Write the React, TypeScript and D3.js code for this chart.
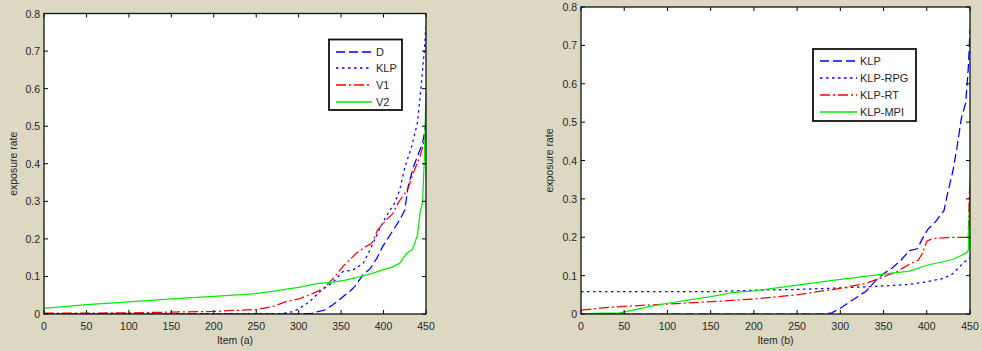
import React from "react";
import * as d3 from "d3";

// ---------- data ----------
const xTicks = [0, 50, 100, 150, 200, 250, 300, 350, 400, 450];
const yTicks = [0, 0.1, 0.2, 0.3, 0.4, 0.5, 0.6, 0.7, 0.8];

// Left panel (a)
const aNames = ["D", "KLP", "V1", "V2"];
const aD_x = [0, 300, 315, 330, 340, 350, 360, 366, 376, 384, 392, 399, 409, 419, 425, 429, 435, 440, 446, 448, 450];
const aD_y = [0, 0, 0.002, 0.01, 0.024, 0.042, 0.06, 0.073, 0.105, 0.12, 0.148, 0.18, 0.215, 0.25, 0.277, 0.34, 0.39, 0.42, 0.455, 0.48, 0.51];
const aKLP_x = [0, 280, 293, 301, 313, 325, 341, 352, 364, 376, 384, 393, 403, 413, 419, 425, 433, 440, 444, 448, 450];
const aKLP_y = [0, 0.001, 0.006, 0.015, 0.033, 0.06, 0.086, 0.113, 0.117, 0.135, 0.17, 0.215, 0.26, 0.295, 0.33, 0.39, 0.445, 0.51, 0.6, 0.7, 0.77];
const aV1_x = [0, 100, 150, 200, 250, 270, 285, 300, 317, 329, 341, 352, 368, 376, 386, 393, 403, 411, 417, 429, 435, 443, 448, 450];
const aV1_y = [0.002, 0.003, 0.005, 0.007, 0.012, 0.02, 0.033, 0.04, 0.055, 0.068, 0.095, 0.126, 0.162, 0.175, 0.188, 0.224, 0.25, 0.268, 0.295, 0.335, 0.375, 0.42, 0.46, 0.48];
const aV2_x = [0, 50, 100, 150, 200, 250, 280, 300, 320, 340, 355, 370, 385, 400, 410, 419, 427, 434, 440, 443, 446, 448, 449, 450];
const aV2_y = [0.015, 0.025, 0.032, 0.04, 0.047, 0.054, 0.064, 0.071, 0.08, 0.085, 0.09, 0.098, 0.107, 0.118, 0.125, 0.135, 0.161, 0.172, 0.21, 0.268, 0.3, 0.41, 0.5, 0.59];

// Right panel (b)
const bNames = ["KLP", "KLP-RPG", "KLP-RT", "KLP-MPI"];
const bKLP_x = [0, 280, 290, 300, 310, 320, 330, 340, 350, 360, 370, 380, 389, 397, 401, 410, 420, 424, 430, 435, 440, 445, 448, 450];
const bKLP_y = [0, 0, 0.003, 0.015, 0.03, 0.045, 0.06, 0.085, 0.105, 0.12, 0.14, 0.165, 0.17, 0.205, 0.22, 0.24, 0.27, 0.314, 0.37, 0.435, 0.51, 0.55, 0.64, 0.74];
const bRPG_x = [0, 150, 200, 250, 300, 350, 380, 400, 420, 430, 440, 446, 450];
const bRPG_y = [0.058, 0.058, 0.062, 0.064, 0.068, 0.073, 0.077, 0.084, 0.093, 0.105, 0.128, 0.14, 0.147];
const bRT_x = [0, 20, 50, 100, 150, 200, 250, 300, 330, 350, 365, 380, 390, 395, 400, 405, 410, 430, 448, 449, 450];
const bRT_y = [0.01, 0.015, 0.02, 0.026, 0.032, 0.039, 0.05, 0.067, 0.08, 0.097, 0.11, 0.13, 0.14, 0.158, 0.19, 0.195, 0.197, 0.2, 0.2, 0.3, 0.35];
const bMPI_x = [0, 25, 45, 60, 80, 100, 150, 175, 200, 250, 300, 350, 380, 400, 430, 445, 448, 449, 450];
const bMPI_y = [0, 0.002, 0.003, 0.01, 0.02, 0.028, 0.045, 0.056, 0.06, 0.075, 0.09, 0.104, 0.112, 0.127, 0.142, 0.158, 0.165, 0.25, 0.345];

// ---------- styles ----------
const BG = "#DCD8C2";
const FONT = "'Liberation Sans', Arial, sans-serif";
const TXT = "#262626";
const FS = 10.5;
const DASH = "9,4";
const DOT = "2.5,3.5";
const DASHDOT = "10,3,2,3";

type Series = { name: string; xs: number[]; ys: number[]; color: string; dash: string | null };

type PanelProps = {
  id: string;
  left: number; right: number; top: number; bottom: number;
  xLabel: string;
  ylabelX: number;
  series: Series[];
  legend: { x0: number; x1: number; y0: number; y1: number; lx0: number; lx1: number; tx: number; rows: number[] };
};

function Panel(p: PanelProps) {
  const x = d3.scaleLinear().domain([0, 450]).range([p.left, p.right]);
  const y = d3.scaleLinear().domain([0, 0.8]).range([p.bottom, p.top]);
  const tl = 4;
  const line = (s: Series) =>
    d3.line<number>().x((_, i) => x(s.xs[i])).y((v) => y(v))(s.ys) || "";
  const cx = (p.left + p.right) / 2;
  const cy = (p.top + p.bottom) / 2;
  return (
    <g>
      <defs>
        <clipPath id={"clip" + p.id}>
          <rect x={p.left} y={p.top - 2} width={p.right - p.left} height={p.bottom - p.top + 2} />
        </clipPath>
      </defs>
      <rect x={p.left} y={p.top} width={p.right - p.left} height={p.bottom - p.top} fill="#fff" />
      <g clipPath={`url(#clip${p.id})`}>
        {p.series.map((s) => (
          <path key={s.name} d={line(s)} fill="none" stroke={s.color} strokeWidth={1.25}
            strokeDasharray={s.dash || undefined} />
        ))}
      </g>
      {xTicks.map((t) => (
        <g key={"xt" + t}>
          <line x1={x(t)} x2={x(t)} y1={p.bottom} y2={p.bottom - tl} stroke="#000" />
          <line x1={x(t)} x2={x(t)} y1={p.top} y2={p.top + tl} stroke="#000" />
          <text x={x(t)} y={330} textAnchor="middle" fontSize={FS} fontFamily={FONT} fill={TXT}>{t}</text>
        </g>
      ))}
      {yTicks.map((t) => (
        <g key={"yt" + t}>
          <line x1={p.left} x2={p.left + tl} y1={y(t)} y2={y(t)} stroke="#000" />
          <line x1={p.right} x2={p.right - tl} y1={y(t)} y2={y(t)} stroke="#000" />
          <text x={p.left - 4} y={y(t) + 4} textAnchor="end" fontSize={FS} fontFamily={FONT} fill={TXT}>{t}</text>
        </g>
      ))}
      <rect x={p.left} y={p.top} width={p.right - p.left} height={p.bottom - p.top} fill="none" stroke="#111" strokeWidth={1.3} />
      <text x={cx} y={344} textAnchor="middle" fontSize={FS} fontFamily={FONT} fill={TXT}>{p.xLabel}</text>
      <text transform={`translate(${p.ylabelX},${cy}) rotate(-90)`} textAnchor="middle" fontSize={FS}
        fontFamily={FONT} fill={TXT}>exposure rate</text>
      <rect x={p.legend.x0} y={p.legend.y0} width={p.legend.x1 - p.legend.x0} height={p.legend.y1 - p.legend.y0}
        fill="#fff" stroke="#111" strokeWidth={1.8} />
      {p.series.map((s, i) => (
        <g key={"lg" + s.name}>
          <line x1={p.legend.lx0} x2={p.legend.lx1} y1={p.legend.rows[i]} y2={p.legend.rows[i]} stroke={s.color}
            strokeWidth={1.4} strokeDasharray={s.dash || undefined} />
          <text x={p.legend.tx} y={p.legend.rows[i] + 4} fontSize={FS + 0.5} fontFamily={FONT} fill={TXT}>{s.name}</text>
        </g>
      ))}
    </g>
  );
}

export default function App() {
  const aSeries: Series[] = [
    { name: aNames[0], xs: aD_x, ys: aD_y, color: "#0000ff", dash: DASH },
    { name: aNames[1], xs: aKLP_x, ys: aKLP_y, color: "#0000ff", dash: DOT },
    { name: aNames[2], xs: aV1_x, ys: aV1_y, color: "#ff0000", dash: DASHDOT },
    { name: aNames[3], xs: aV2_x, ys: aV2_y, color: "#00ee00", dash: null },
  ];
  const bSeries: Series[] = [
    { name: bNames[0], xs: bKLP_x, ys: bKLP_y, color: "#0000ff", dash: DASH },
    { name: bNames[1], xs: bRPG_x, ys: bRPG_y, color: "#0000ff", dash: DOT },
    { name: bNames[2], xs: bRT_x, ys: bRT_y, color: "#ff0000", dash: DASHDOT },
    { name: bNames[3], xs: bMPI_x, ys: bMPI_y, color: "#00ee00", dash: null },
  ];
  return (
    <svg width={982} height={351} style={{ position: "absolute", left: 0, top: 0, display: "block" }}>
      <rect x={0} y={0} width={982} height={351} fill={BG} />
      <Panel id="a" left={44} right={426} top={13.5} bottom={314} xLabel="Item (a)" ylabelX={17}
        series={aSeries}
        legend={{ x0: 329, x1: 402, y0: 39.5, y1: 110, lx0: 336, lx1: 372, tx: 376, rows: [52, 68, 85, 102] }} />
      <Panel id="b" left={581} right={970} top={7} bottom={314} xLabel="Item (b)" ylabelX={553}
        series={bSeries}
        legend={{ x0: 813, x1: 916, y0: 49, y1: 121, lx0: 820, lx1: 857, tx: 860, rows: [61, 78, 95, 112] }} />
    </svg>
  );
}
